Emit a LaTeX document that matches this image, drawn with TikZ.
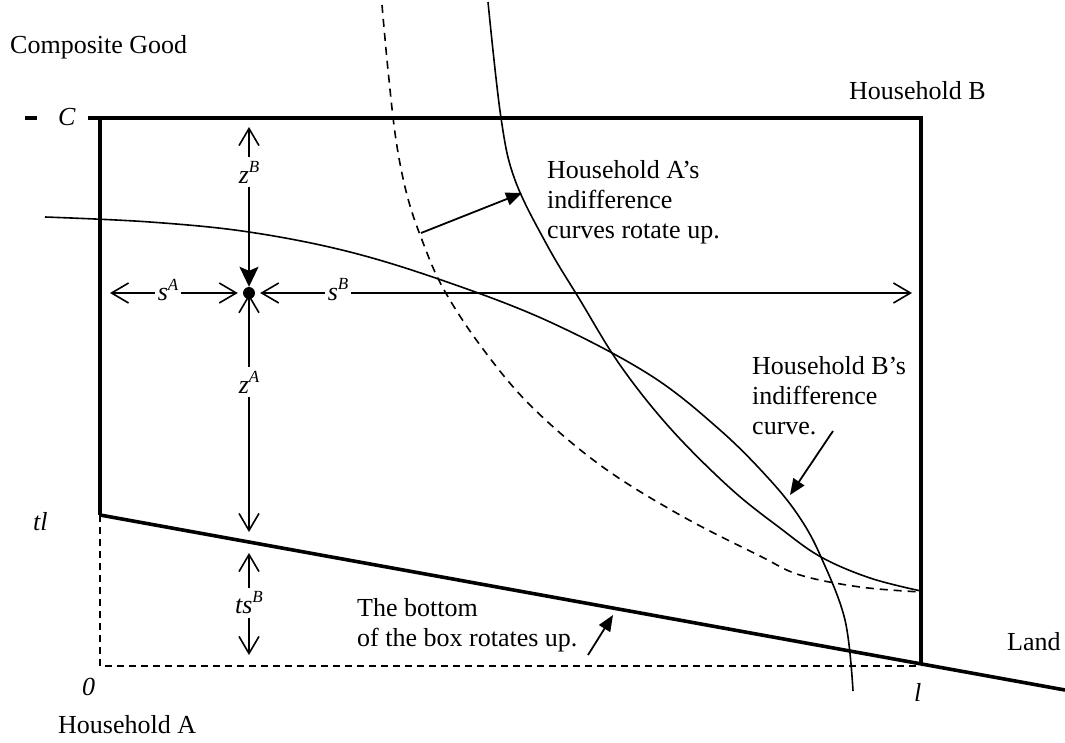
\documentclass[tikz,border=0pt]{standalone}
\usepackage{fontspec}
\setmainfont{Liberation Serif}
\usetikzlibrary{arrows.meta}
\newcommand\upidx[1]{\raisebox{0.42em}{\fontsize{17}{17}\selectfont\itshape #1}}
\begin{document}
\begin{tikzpicture}[x=1pt,y=-1pt,
  txt/.style={font=\fontsize{26}{30}\selectfont, inner sep=0pt},
  mlab/.style={font=\fontsize{26}{30}\selectfont\itshape, inner sep=0pt},
  dimlab/.style={font=\fontsize{26}{30}\selectfont\itshape, inner xsep=3pt, inner ysep=4pt},
  boxline/.style={line width=3.6pt},
  curve/.style={line width=1.6pt},
  dcurve/.style={line width=1.6pt, dash pattern=on 8pt off 6pt},
  dline/.style={line width=1.8pt, dash pattern=on 7pt off 5pt},
  dimarrow/.style={line width=1.6pt, -{Straight Barb[length=17pt,width=20pt,line width=1.6pt]}},
  filledarrow/.style={line width=1.8pt, -{Stealth[length=20pt,width=19pt,inset=4pt]}},
  pointer/.style={line width=1.8pt, -{Triangle[length=16pt,width=13pt]}},
  dotstyle/.style={circle, fill=black, inner sep=0pt, minimum size=12pt}
]
\useasboundingbox (0,0) rectangle (1065,742);

% corners of the box
\coordinate (TL) at (100,118);
\coordinate (TR) at (921,118);
\coordinate (tlpt) at (100,515);
\coordinate (lpt) at (921,664);
\coordinate (O) at (100,666);
\coordinate (Ol) at (921,666);
\coordinate (landend) at (1065,690);
\coordinate (topstart) at (88,118);

% dashed old bottom
\draw[dline] (tlpt) -- (O) -- (Ol);

% box
\draw[boxline] (topstart) -- (TR) -- (lpt);
\draw[boxline] (TL) -- (tlpt);
\draw[boxline] (tlpt) -- (landend);
\draw[boxline] (25,118) -- (37,118);

% curves
% Household B's indifference curve
\draw[curve] plot[smooth, tension=0.6] coordinates {(45,217) (150,222) (249,232) (350,252) (450,283) (550,322) (650,375) (720,430) (770,480) (800,518) (821,557) (845,620) (853,691)};
% Household A's rotated indifference curve
\draw[curve] plot[smooth, tension=0.6] coordinates {(488,2) (501,118) (515,180) (547,245) (580,300) (620,365) (670,428) (730,488) (780,528) (821,557) (870,578) (921,591)};
% Household A's old indifference curve
\draw[dcurve] plot[smooth, tension=0.6] coordinates {(382,5) (388,70) (396,140) (407,195) (422,240) (443,288) (480,345) (530,405) (600,465) (680,515) (760,556) (800,575) (860,587) (921,592)};

% labels
\node[txt, anchor=base west] (compgood) at (10,53) {Composite Good};
\node[txt, anchor=base west] (hhB) at (849,99) {Household B};
\node[mlab, anchor=base west] (Clab) at (58,125) {C};
\node[mlab, anchor=base west] (tllab) at (33,530) {tl};
\node[mlab, anchor=base west] (zerolab) at (82,695) {0};
\node[txt, anchor=base west] (hhA) at (58,733) {Household A};
\node[mlab, anchor=base west] (llab) at (914,701) {l};
\node[txt, anchor=base west] (land) at (1007,650) {Land};

\node[txt, anchor=north west, align=left] (labA) at (547,160) {Household A's\\indifference\\curves rotate up.};
\node[txt, anchor=north west, align=left] (labB) at (752,356) {Household B's\\indifference\\curve.};
\node[txt, anchor=north west, align=left] (labBox) at (357,598) {The bottom\\of the box rotates up.};

% point and dimension arrows
\node[dotstyle] (dot) at (249,293) {};
\coordinate (zBtip) at (249,127);
\coordinate (zAtip) at (249,532);
\coordinate (tsup) at (249,553);
\coordinate (tsdown) at (249,655);
\coordinate (sAleft) at (110,293);
\coordinate (sBright) at (912,293);

\node[dimlab] (zB) at (249,172) {z\upidx{B}};
\node[dimlab] (zA) at (249,382) {z\upidx{A}};
\node[dimlab] (tsB) at (249,603) {ts\upidx{B}};
\node[dimlab] (sA) at (168,290) {s\upidx{A}};
\node[dimlab] (sB) at (338,290) {s\upidx{B}};

\draw[dimarrow] (zB.north) -- (zBtip);
\draw[filledarrow] (zB.south) -- (dot.north);
\draw[dimarrow] (zA.north) -- ([yshift=5pt]dot.south);
\draw[dimarrow] (zA.south) -- (zAtip);
\draw[dimarrow] (tsB.north) -- (tsup);
\draw[dimarrow] (tsB.south) -- (tsdown);
\draw[dimarrow] (sA.west |- dot) -- (sAleft);
\draw[dimarrow] (sA.east |- dot) -- ([xshift=-5pt]dot.west);
\draw[dimarrow] (sB.west |- dot) -- ([xshift=5pt]dot.east);
\draw[dimarrow] (sB.east |- dot) -- (sBright);

% pointers
\coordinate (pAstart) at (421,233);
\coordinate (pBstart) at (833,431);
\coordinate (pBoxstart) at (588,655);
\draw[pointer] (pAstart) -- (522,193);
\draw[pointer] (pBstart) -- (790,495);
\draw[pointer] (pBoxstart) -- (613,615);
\end{tikzpicture}
\end{document}
